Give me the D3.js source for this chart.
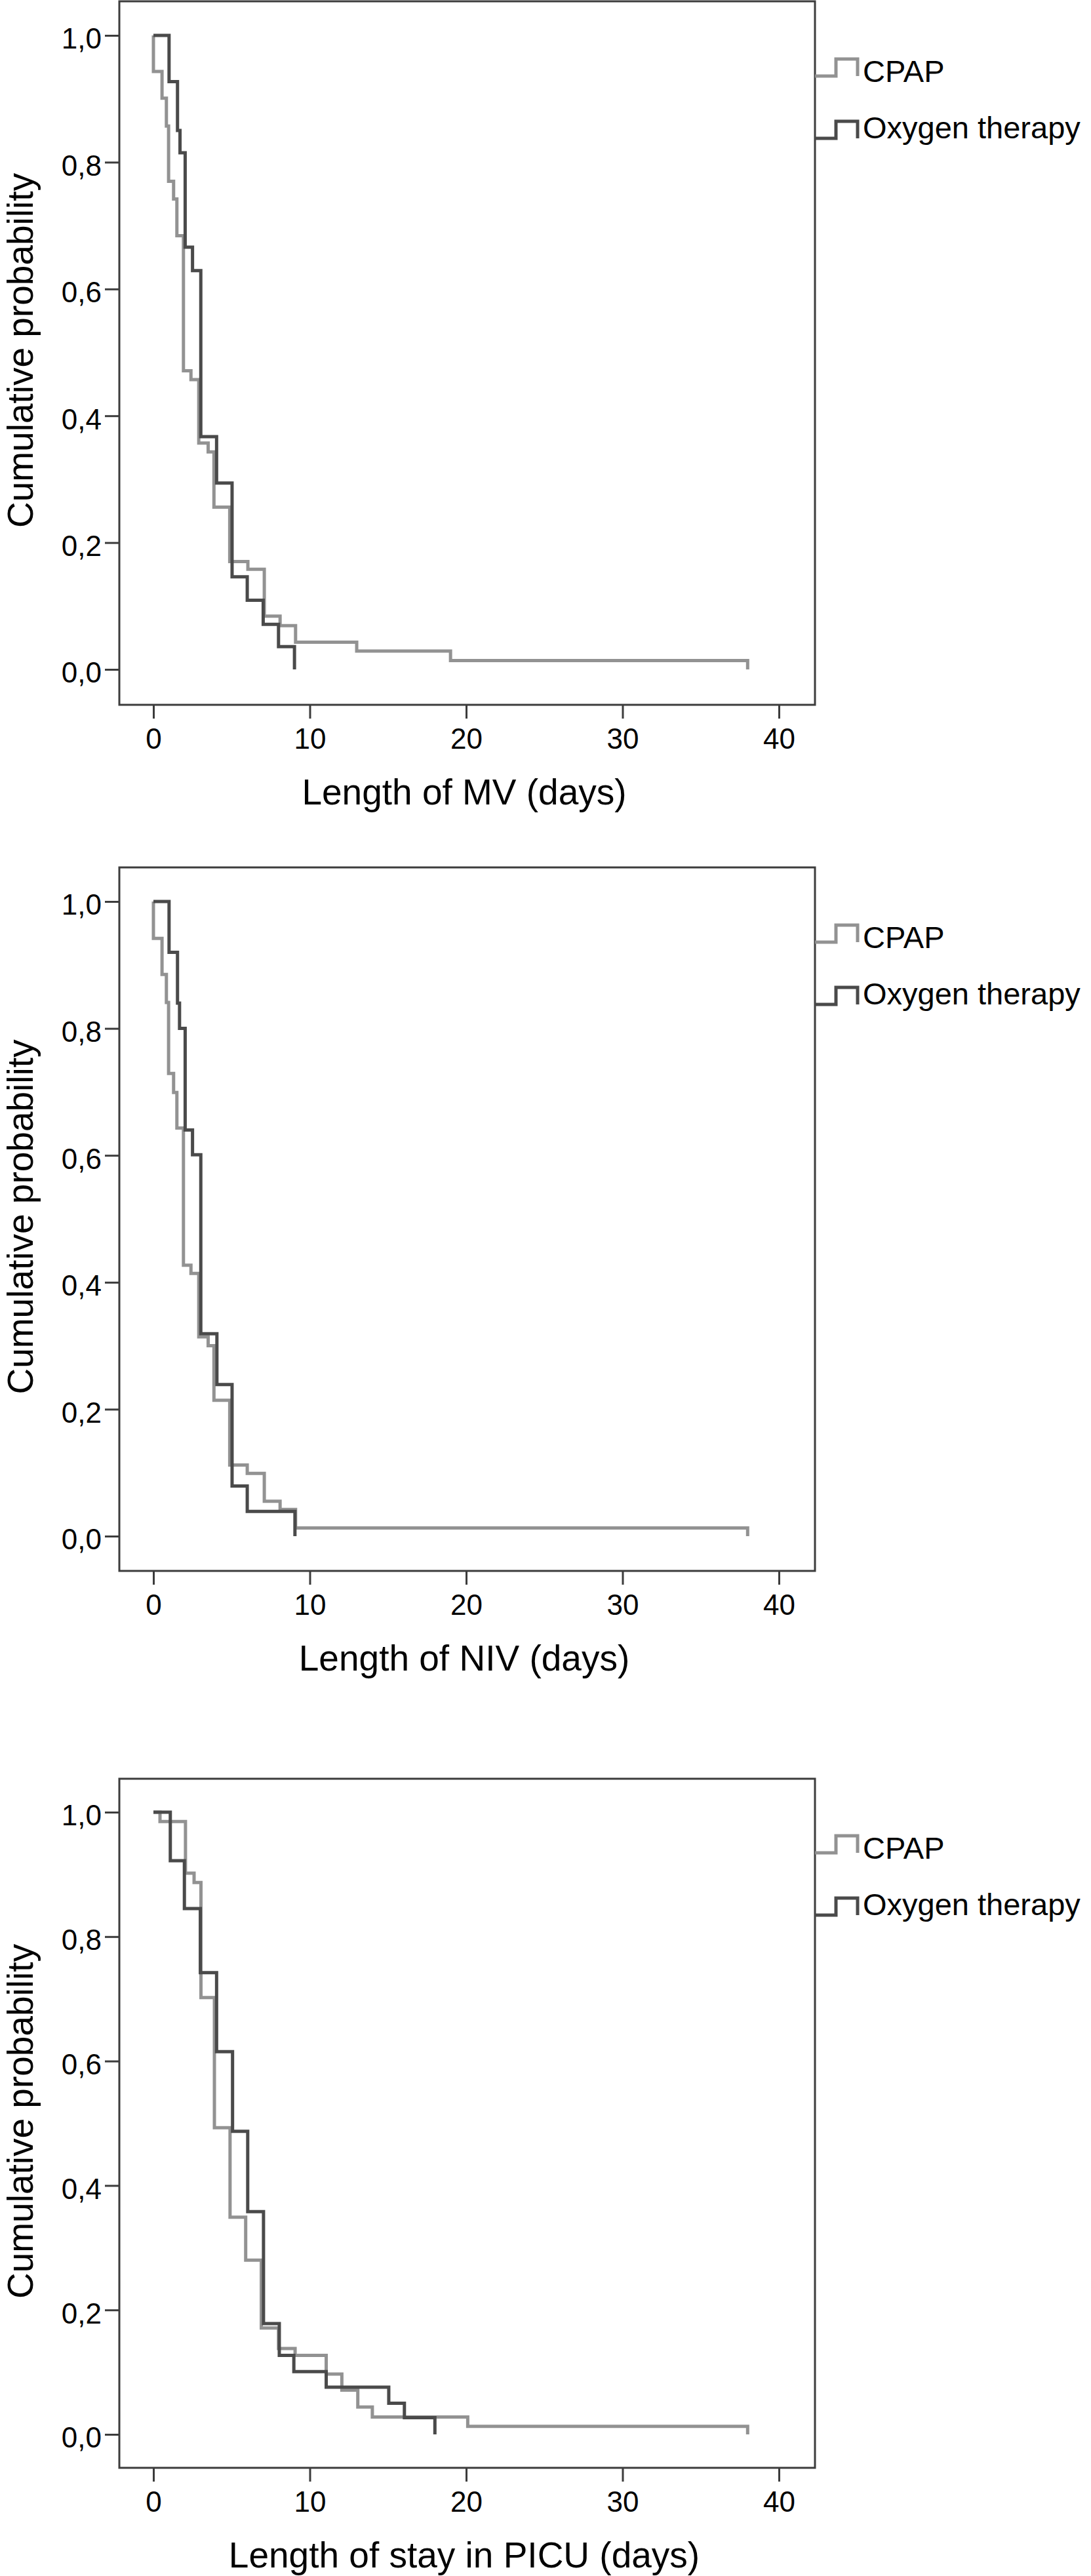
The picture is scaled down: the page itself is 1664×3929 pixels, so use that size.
<!DOCTYPE html>
<html>
<head>
<meta charset="utf-8">
<script src="https://cdn.jsdelivr.net/npm/d3@7"></script>
<style>
  body { margin: 0; background: #fff; }
  text { font-family: "Liberation Sans", Arial, Helvetica, sans-serif; fill: #000; }
</style>
</head>
<body>
<svg id="chart"></svg>
<script>
const xTicks = [0, 10, 20, 30, 40];
const yTicks = [0, 0.2, 0.4, 0.6, 0.8, 1.0];
const seriesNames = ['CPAP', 'Oxygen therapy'];
const xTitles = ['Length of MV (days)', 'Length of NIV (days)', 'Length of stay in PICU (days)'];
const yTitle = 'Cumulative probability';

// panel 1 - MV
const mvCpapDays = [0, 0, 0.55, 0.83, 0.97, 1.29, 1.5, 1.92, 2.4, 2.9, 3.5, 3.87, 4.88, 6.04, 7.09, 8.1, 9.09, 13, 19, 38];
const mvCpapProb = [1, 0.943, 0.901, 0.857, 0.770, 0.742, 0.684, 0.471, 0.457, 0.357, 0.343, 0.256, 0.170, 0.158, 0.084, 0.069, 0.043, 0.029, 0.014, 0];
const mvOxyDays = [0, 1, 1.54, 1.7, 2.03, 2.5, 3.03, 4.04, 5.03, 6.0, 7.02, 8.0, 9.02];
const mvOxyProb = [1, 0.927, 0.850, 0.815, 0.666, 0.629, 0.367, 0.294, 0.146, 0.109, 0.071, 0.036, 0];

// panel 2 - NIV
const nivCpapDays = [0, 0, 0.55, 0.83, 0.97, 1.29, 1.5, 1.92, 2.4, 2.9, 3.5, 3.87, 4.88, 6.0, 7.09, 8.1, 9.09, 38];
const nivCpapProb = [1, 0.942, 0.885, 0.841, 0.729, 0.699, 0.643, 0.427, 0.414, 0.314, 0.300, 0.214, 0.112, 0.099, 0.055, 0.042, 0.013, 0];
const nivOxyDays = [0, 1, 1.54, 1.67, 2.03, 2.5, 3.03, 4.06, 5.03, 6.0, 9.05];
const nivOxyProb = [1, 0.920, 0.840, 0.800, 0.640, 0.601, 0.319, 0.239, 0.079, 0.039, 0];

// panel 3 - PICU stay
const picuCpapDays = [0, 0.42, 2.05, 2.6, 3.04, 3.9, 4.9, 5.9, 6.9, 8.0, 9.06, 11.05, 12.05, 13.07, 14.0, 20.1, 38];
const picuCpapProb = [1, 0.985, 0.902, 0.887, 0.702, 0.493, 0.349, 0.280, 0.171, 0.138, 0.127, 0.097, 0.071, 0.044, 0.028, 0.013, 0];
const picuOxyDays = [0, 1.08, 1.98, 3.0, 4.04, 5.06, 6.03, 7.04, 8.05, 8.98, 11.05, 15.05, 16.05, 18.0];
const picuOxyProb = [1, 0.922, 0.845, 0.742, 0.615, 0.487, 0.358, 0.178, 0.127, 0.101, 0.076, 0.050, 0.027, 0];

const colors = ['#929292', '#4a4a4a'];

const svg = d3.select('#chart')
    .attr('width', 1664)
    .attr('height', 3929)
    .style('background-color', '#fff');

const panels = [
    {top: 2, y1: 54, y0: 1021, bottom: 1075, title: xTitles[0],
     series: [[mvCpapDays, mvCpapProb], [mvOxyDays, mvOxyProb]]},
    {top: 1323, y1: 1375, y0: 2343, bottom: 2396, title: xTitles[1],
     series: [[nivCpapDays, nivCpapProb], [nivOxyDays, nivOxyProb]]},
    {top: 2713, y1: 2764, y0: 3713, bottom: 3764, title: xTitles[2],
     series: [[picuCpapDays, picuCpapProb], [picuOxyDays, picuOxyProb]]}
];

const boxLeft = 182;
const boxRight = 1243;
const x = d3.scaleLinear().domain([0, 40]).range([234, 1188]);
const commaFormat = d => d3.format('.1f')(d).replace('.', ',');

for (const p of panels) {
    const g = svg.append('g');
    const y = d3.scaleLinear().domain([0, 1]).range([p.y0, p.y1]);

    g.append('rect')
        .attr('x', boxLeft)
        .attr('y', p.top)
        .attr('width', boxRight - boxLeft)
        .attr('height', p.bottom - p.top)
        .attr('fill', 'none')
        .attr('stroke', '#3c3c3c')
        .attr('stroke-width', 3);

    const yAxis = g.append('g')
        .attr('transform', 'translate(' + boxLeft + ',0)')
        .call(d3.axisLeft(y).tickValues(yTicks).tickSize(22).tickPadding(5).tickFormat(commaFormat));
    const xAxis = g.append('g')
        .attr('transform', 'translate(0,' + p.bottom + ')')
        .call(d3.axisBottom(x).tickValues(xTicks).tickSize(21).tickPadding(15));

    for (const ax of [xAxis, yAxis]) {
        ax.select('.domain').remove();
        ax.selectAll('line').attr('stroke', '#3c3c3c').attr('stroke-width', 3);
        ax.selectAll('text')
            .attr('fill', '#000')
            .style('font-size', '44px')
            .style('font-family', '"Liberation Sans", Arial, sans-serif');
    }
    yAxis.selectAll('text').attr('dy', '0.45em');

    // step lines, CPAP first then oxygen on top
    p.series.forEach((s, i) => {
        const pts = s[0].map((d, k) => [d, s[1][k]]);
        g.append('path')
            .datum(pts)
            .attr('fill', 'none')
            .attr('stroke', colors[i])
            .attr('stroke-width', 5)
            .attr('stroke-linejoin', 'miter')
            .attr('d', d3.line()
                .x(d => x(d[0]))
                .y(d => y(d[1]))
                .curve(d3.curveStepAfter));
    });

    // legend
    const legendBase = [p.y1 + 62, p.y1 + 157];
    const textBase = [p.y1 + 71, p.y1 + 157];
    seriesNames.forEach((name, i) => {
        const b = legendBase[i];
        const path = d3.path();
        path.moveTo(boxRight, b);
        path.lineTo(1275, b);
        path.lineTo(1275, b - 26);
        path.lineTo(1308, b - 26);
        path.lineTo(1308, b);
        g.append('path')
            .attr('d', path.toString())
            .attr('fill', 'none')
            .attr('stroke', colors[i])
            .attr('stroke-width', 5);
        g.append('text')
            .attr('x', 1316)
            .attr('y', textBase[i])
            .style('font-size', '47px')
            .text(name);
    });

    g.append('text')
        .attr('x', 708)
        .attr('y', p.bottom + 152)
        .attr('text-anchor', 'middle')
        .style('font-size', '55px')
        .text(p.title);

    g.append('text')
        .attr('transform', 'translate(50,' + ((p.y0 + p.y1) / 2 - 3) + ') rotate(-90)')
        .attr('text-anchor', 'middle')
        .style('font-size', '55px')
        .text(yTitle);
}
</script>
</body>
</html>
